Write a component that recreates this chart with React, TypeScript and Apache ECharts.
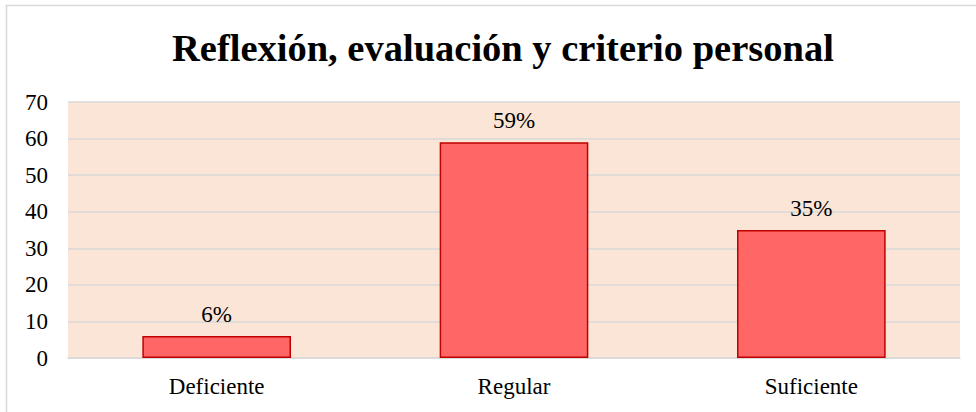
import React, { useEffect, useRef } from "react";
import * as echarts from "echarts";

const categories = ["Deficiente", "Regular", "Suficiente"];
const values = [6, 59, 35];
const labels = ["6%", "59%", "35%"];
const yTicks = [0, 10, 20, 30, 40, 50, 60, 70];

export default function App() {
  const ref = useRef<HTMLDivElement>(null);
  useEffect(() => {
    if (!ref.current) return;
    const chart = echarts.init(ref.current, null, { renderer: "svg" });
    const font = "Times New Roman";
    chart.setOption({
      animation: false,
      backgroundColor: "#ffffff",
      textStyle: { fontFamily: font },
      title: {
        text: "Reflexión, evaluación y criterio personal",
        left: 167,
        top: 23,
        textStyle: { fontFamily: font, fontSize: 38.5, fontWeight: "bold", color: "#000" },
      },
      graphic: [
        {
          type: "rect",
          shape: { x: 6.5, y: 5.5, width: 980, height: 420 },
          style: { fill: "none", stroke: "#D9D9D9", lineWidth: 1.5 },
          silent: true,
        },
      ],
      grid: { left: 68, right: 16, top: 102, bottom: 54, backgroundColor: "#FBE5D6", show: true, borderWidth: 0 },
      xAxis: {
        type: "category",
        data: categories,
        axisTick: { show: false },
        axisLine: { show: true, lineStyle: { color: "#D9D9D9", width: 1.5 } },
        axisLabel: { fontFamily: font, fontSize: 23, color: "#000", margin: 17 },
      },
      yAxis: {
        type: "value",
        min: yTicks[0],
        max: yTicks[yTicks.length - 1],
        interval: 10,
        axisLine: { show: false },
        axisTick: { show: false },
        splitLine: { lineStyle: { color: "#D9D9D9", width: 1.5 } },
        axisLabel: { fontFamily: font, fontSize: 23, color: "#000", margin: 20 },
      },
      series: [
        {
          type: "bar",
          data: values,
          barWidth: "50%",
          itemStyle: { color: "#FF6666", borderColor: "#C00000", borderWidth: 1.5 },
          label: {
            show: true,
            position: "top",
            distance: 10,
            fontFamily: font,
            fontSize: 23,
            color: "#000",
            formatter: (p: any) => labels[p.dataIndex],
          },
        },
      ],
    });
    return () => chart.dispose();
  }, []);
  return (
    <div
      ref={ref}
      style={{ position: "fixed", left: 0, top: 0, width: 976, height: 412 }}
    />
  );
}
